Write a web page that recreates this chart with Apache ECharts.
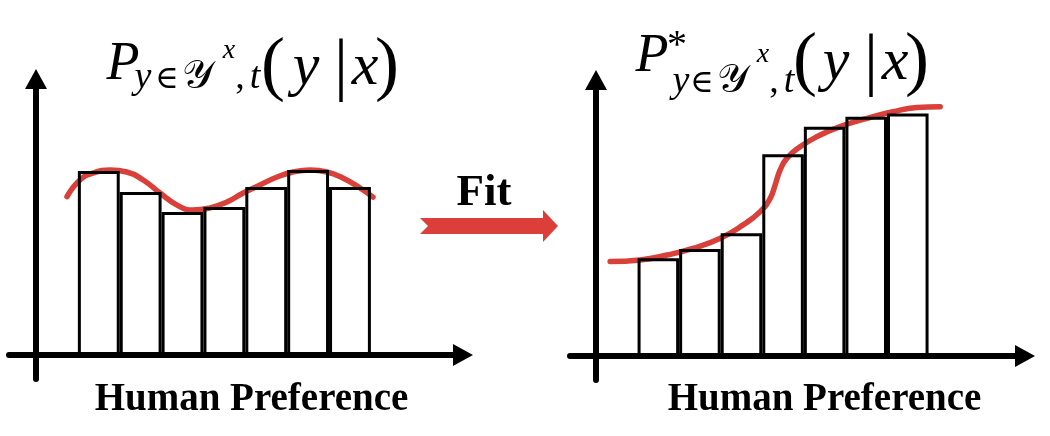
<!DOCTYPE html>
<html>
<head>
<meta charset="utf-8">
<script src="https://cdn.jsdelivr.net/npm/echarts@6/dist/echarts.min.js"></script>
<style>
html,body{margin:0;padding:0;background:#fff;}
#chart{width:1050px;height:436px;}
</style>
</head>
<body>
<div id="chart"></div>
<script>
// ---- data ----
const binCenters = [1.5, 2.5, 3.5, 4.5, 5.5, 6.5, 7.5];
const leftBars  = [0.667, 0.591, 0.518, 0.536, 0.609, 0.670, 0.609];
const rightBars = [0.354, 0.388, 0.445, 0.731, 0.831, 0.867, 0.879];

const leftCurveX = [0.74, 1.05, 1.36, 1.77, 2.17, 2.56, 2.96, 3.37, 3.75, 4.16, 4.56, 4.95, 5.35, 5.76, 6.14, 6.55, 6.95, 7.33, 7.74, 8.05];
const leftCurveY = [0.574, 0.634, 0.659, 0.670, 0.663, 0.634, 0.587, 0.543, 0.525, 0.533, 0.554, 0.587, 0.616, 0.645, 0.663, 0.670, 0.663, 0.641, 0.605, 0.572];

const rightCurveX = [0.34, 1.06, 1.71, 2.33, 2.98, 3.54, 3.95, 4.19, 4.31, 4.43, 4.59, 4.91, 5.32, 5.87, 6.52, 7.14, 7.72, 8.28];
const rightCurveY = [0.342, 0.348, 0.366, 0.390, 0.426, 0.475, 0.523, 0.571, 0.620, 0.674, 0.716, 0.758, 0.795, 0.831, 0.861, 0.885, 0.900, 0.903];

const xAxisLabel = 'Human Preference';
const fitLabel = 'Fit';

// ---- helpers ----
const RED = '#d9403a';
const MATH_FONT = "'Liberation Serif', 'DejaVu Serif', serif";
const ctx = document.createElement('canvas').getContext('2d');
function midOffset(font) {
  ctx.font = font;
  ctx.textBaseline = 'alphabetic';
  const a = ctx.measureText('H').actualBoundingBoxAscent;
  ctx.textBaseline = 'middle';
  const m = ctx.measureText('H').actualBoundingBoxAscent;
  return a - m;
}
function textAt(str, x, baseline, size, opts) {
  opts = opts || {};
  const font = (opts.italic ? 'italic ' : '') + (opts.bold ? 'bold ' : '') + size + 'px ' + (opts.family || MATH_FONT);
  const align = opts.align || 'center';
  return {
    type: 'text', x: x, y: baseline - midOffset(font), silent: true, z: 100,
    style: { text: str, font: font, fill: '#000', align: align, verticalAlign: 'middle',
             textAlign: align, textVerticalAlign: 'middle' }
  };
}
// math title pieces: [text, centre x, baseline, size, italic]
const leftTitle = [
  ['P', 123, 79, 54, true], ['y', 143, 88, 38, true], ['\u2208', 167, 88, 32, false],
  ['\uD835\uDCB4', 197, 88, 40, false], ['x', 229, 58, 28, true], [',', 240, 88, 38, false],
  ['t', 255, 88, 38, true], ['(', 273, 87, 72, false], ['y', 306, 84, 60, true],
  ['|', 341, 87, 70, false], ['x', 365, 84, 60, true], [')', 387, 87, 72, false]
];
const rightTitle = [
  ['P', 652, 71, 54, true], ['*', 677, 57, 40, false], ['y', 681, 92, 38, true],
  ['\u2208', 702, 92, 32, false], ['\uD835\uDCB4', 732, 92, 40, false], ['x', 763, 62, 28, true],
  [',', 774, 92, 38, false], ['t', 789, 92, 38, true], ['(', 805, 82, 72, false],
  ['y', 836, 79, 60, true], ['|', 871, 82, 70, false], ['x', 895, 79, 60, true], [')', 917, 82, 72, false]
];

const graphics = [];
leftTitle.concat(rightTitle).forEach(p => graphics.push(textAt(p[0], p[1], p[2], p[3], {italic: p[4]})));
graphics.push(textAt(xAxisLabel, 251.5, 410, 39, {bold: true}));
graphics.push(textAt(xAxisLabel, 824.5, 410, 39, {bold: true}));
graphics.push(textAt(fitLabel, 484, 205, 45, {bold: true}));
graphics.push({
  type: 'polygon', silent: true, z: 50,
  shape: { points: [[420,218],[543,218],[543,210],[558,226],[543,242],[543,234],[420,234],[428,226]] },
  style: { fill: '#dc3f3a' }
});

function axisCommon(min, max) {
  return {
    type: 'value', min: min, max: max,
    axisLine: { show: true, onZero: true, symbol: ['none', 'triangle'], symbolSize: [22, 20],
                lineStyle: { color: '#000', width: 6 } },
    axisTick: { show: false }, axisLabel: { show: false }, splitLine: { show: false }
  };
}

const chart = echarts.init(document.getElementById('chart'), null, { renderer: 'canvas' });
chart.setOption({
  animation: false,
  backgroundColor: '#fff',
  grid: [
    { left: 9, top: 79, width: 454, height: 300 },
    { left: 570, top: 80, width: 455, height: 300 }
  ],
  xAxis: [
    Object.assign(axisCommon(-0.645, 10.2), { gridIndex: 0 }),
    Object.assign(axisCommon(-0.6255, 10.32), { gridIndex: 1 })
  ],
  yAxis: [
    Object.assign(axisCommon(-0.087, 1.0), { gridIndex: 0 }),
    Object.assign(axisCommon(-0.087, 1.0), { gridIndex: 1 })
  ],
  series: [
    { type: 'bar', xAxisIndex: 0, yAxisIndex: 0, barWidth: '100%', z: 3,
      data: binCenters.map((c, i) => [c, leftBars[i]]),
      itemStyle: { color: 'rgba(255,255,255,0)', borderColor: '#000', borderWidth: 3 } },
    { type: 'line', xAxisIndex: 0, yAxisIndex: 0, z: 2, smooth: 0.5, showSymbol: false,
      data: leftCurveX.map((x, i) => [x, leftCurveY[i]]),
      lineStyle: { color: RED, width: 5.5, cap: 'round' } },
    { type: 'bar', xAxisIndex: 1, yAxisIndex: 1, barWidth: '100%', z: 3,
      data: binCenters.map((c, i) => [c, rightBars[i]]),
      itemStyle: { color: 'rgba(255,255,255,0)', borderColor: '#000', borderWidth: 3 } },
    { type: 'line', xAxisIndex: 1, yAxisIndex: 1, z: 2, smooth: 0.5, showSymbol: false,
      data: rightCurveX.map((x, i) => [x, rightCurveY[i]]),
      lineStyle: { color: RED, width: 5.5, cap: 'round' } }
  ],
  graphic: graphics
});
</script>
</body>
</html>
